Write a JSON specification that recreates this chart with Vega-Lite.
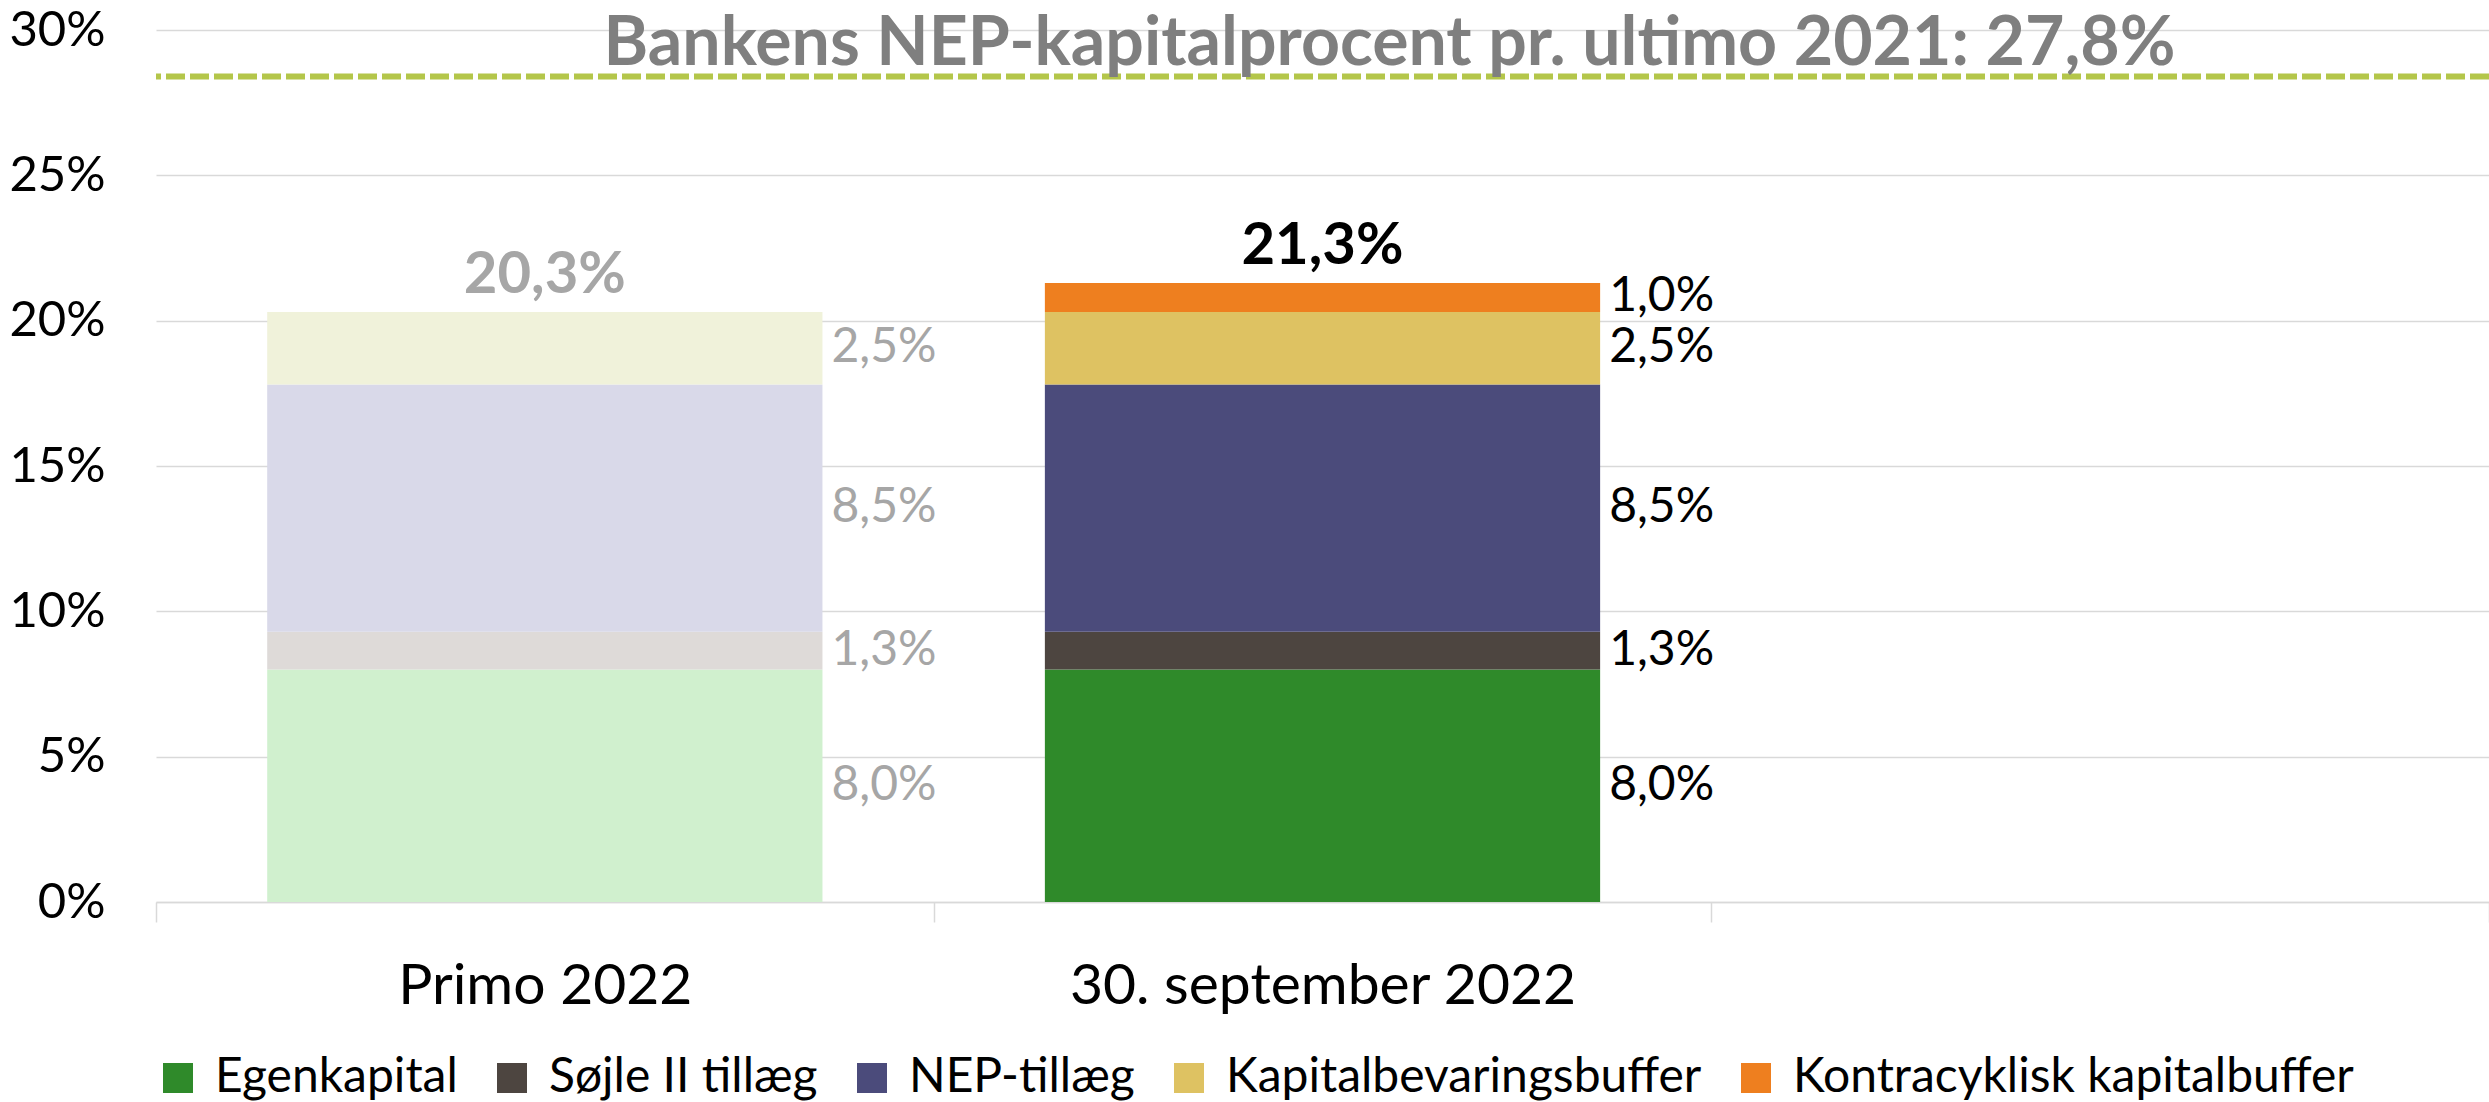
{
  "$schema": "https://vega.github.io/schema/vega-lite/v6.json",
  "width": 2333,
  "height": 872,
  "autosize": {"type": "none"},
  "padding": {"left": 156, "top": 30, "right": 0, "bottom": 200},
  "datasets": {
    "segments": [
      {"period": "Primo 2022", "segment": "Egenkapital", "rank": 1, "value": 0.08},
      {"period": "Primo 2022", "segment": "Søjle II tillæg", "rank": 2, "value": 0.013},
      {"period": "Primo 2022", "segment": "NEP-tillæg", "rank": 3, "value": 0.085},
      {"period": "Primo 2022", "segment": "Kapitalbevaringsbuffer", "rank": 4, "value": 0.025},
      {"period": "30. september 2022", "segment": "Egenkapital", "rank": 1, "value": 0.08},
      {"period": "30. september 2022", "segment": "Søjle II tillæg", "rank": 2, "value": 0.013},
      {"period": "30. september 2022", "segment": "NEP-tillæg", "rank": 3, "value": 0.085},
      {"period": "30. september 2022", "segment": "Kapitalbevaringsbuffer", "rank": 4, "value": 0.025},
      {"period": "30. september 2022", "segment": "Kontracyklisk kapitalbuffer", "rank": 5, "value": 0.01}
    ],
    "target": [
      {"level": 0.284, "caption": "Bankens NEP-kapitalprocent pr. ultimo 2021: 27,8%", "anchor": "30. september 2022"}
    ]
  },
  "layer": [
    {
      "data": {"name": "target"},
      "mark": {"type": "rule", "color": "#B4C64A", "strokeWidth": 6, "strokeDash": [19, 5]},
      "encoding": {
        "y": {"field": "level", "type": "quantitative", "scale": {"domain": [0, 0.3]}}
      }
    },
    {
      "data": {"name": "segments"},
      "transform": [
        {"stack": "value", "groupby": ["period"], "sort": [{"field": "rank", "order": "ascending"}], "as": ["y0", "y1"]},
        {"filter": "datum.period === 'Primo 2022'"}
      ],
      "mark": {"type": "bar", "width": {"band": 0.714}},
      "encoding": {
        "x": {
          "field": "period",
          "type": "nominal",
          "scale": {"domain": ["Primo 2022", "30. september 2022", ""], "paddingInner": 0, "paddingOuter": 0},
          "axis": {
            "title": null,
            "labelAngle": 0,
            "labelFont": "Lato",
            "labelFontSize": 57,
            "labelColor": "#000000",
            "labelPadding": 36,
            "tickBand": "extent",
            "tickSize": 20,
            "tickColor": "#D9D9D9",
            "tickWidth": 1.5,
            "domainColor": "#D9D9D9",
            "domainWidth": 1.5,
            "grid": false,
            "labelLimit": 1000
          }
        },
        "y": {
          "field": "y1",
          "type": "quantitative",
          "scale": {"domain": [0, 0.3]},
          "axis": {
            "title": null,
            "format": ".0%",
            "values": [0, 0.05, 0.1, 0.15, 0.2, 0.25, 0.3],
            "labelFont": "Lato",
            "labelFontSize": 49,
            "labelColor": "#000000",
            "labelPadding": 51,
            "ticks": false,
            "domain": false,
            "gridColor": "#D9D9D9",
            "gridWidth": 1.5
          }
        },
        "y2": {"field": "y0"},
        "color": {
          "field": "segment",
          "type": "nominal",
          "scale": {
            "domain": ["Egenkapital", "Søjle II tillæg", "NEP-tillæg", "Kapitalbevaringsbuffer"],
            "range": ["#D0F0CE", "#DEDAD8", "#D9D9E9", "#F0F2DA"]
          },
          "legend": null
        }
      }
    },
    {
      "data": {"name": "segments"},
      "transform": [
        {"stack": "value", "groupby": ["period"], "sort": [{"field": "rank", "order": "ascending"}], "as": ["y0", "y1"]},
        {"filter": "datum.period === '30. september 2022'"}
      ],
      "mark": {"type": "bar", "width": {"band": 0.714}},
      "encoding": {
        "x": {"field": "period", "type": "nominal"},
        "y": {"field": "y1", "type": "quantitative"},
        "y2": {"field": "y0"},
        "color": {
          "field": "segment",
          "type": "nominal",
          "scale": {
            "domain": ["Egenkapital", "Søjle II tillæg", "NEP-tillæg", "Kapitalbevaringsbuffer", "Kontracyklisk kapitalbuffer"],
            "range": ["#2F8A2A", "#4D4540", "#4B4B7B", "#DEC262", "#EE7F1F"]
          },
          "legend": {
            "title": null,
            "orient": "none",
            "legendX": -2,
            "legendY": 1024,
            "direction": "horizontal",
            "columns": 5,
            "symbolType": "square",
            "symbolSize": 900,
            "symbolStrokeWidth": 0,
            "symbolOpacity": 1,
            "labelFont": "Lato",
            "labelFontSize": 48,
            "labelColor": "#000000",
            "labelOffset": 13,
            "labelLimit": 1000,
            "columnPadding": 30,
            "padding": 0
          }
        }
      }
    },
    {
      "data": {"name": "segments"},
      "transform": [
        {"stack": "value", "groupby": ["period"], "sort": [{"field": "rank", "order": "ascending"}], "as": ["y0", "y1"]},
        {"calculate": "(datum.y0 + datum.y1) / 2", "as": "mid"}
      ],
      "mark": {"type": "text", "align": "left", "baseline": "middle", "dx": 9, "font": "Lato", "fontSize": 48},
      "encoding": {
        "x": {"field": "period", "type": "nominal", "bandPosition": 0.857},
        "y": {"field": "mid", "type": "quantitative"},
        "text": {"field": "value", "type": "quantitative", "format": ".1%"},
        "color": {"condition": {"test": "datum.period === 'Primo 2022'", "value": "#A6A6A6"}, "value": "#000000"}
      }
    },
    {
      "data": {"name": "segments"},
      "transform": [
        {"aggregate": [{"op": "sum", "field": "value", "as": "total"}], "groupby": ["period"]}
      ],
      "mark": {"type": "text", "align": "center", "baseline": "alphabetic", "dy": -19, "font": "Lato", "fontSize": 58, "fontWeight": "bold"},
      "encoding": {
        "x": {"field": "period", "type": "nominal"},
        "y": {"field": "total", "type": "quantitative"},
        "text": {"field": "total", "type": "quantitative", "format": ".1%"},
        "color": {"condition": {"test": "datum.period === 'Primo 2022'", "value": "#A6A6A6"}, "value": "#000000"}
      }
    },
    {
      "data": {"name": "target"},
      "mark": {"type": "text", "align": "center", "baseline": "alphabetic", "dx": 67, "dy": -12, "font": "Lato", "fontSize": 68, "fontWeight": "bold", "color": "#7F7F7F"},
      "encoding": {
        "x": {"field": "anchor", "type": "nominal"},
        "y": {"field": "level", "type": "quantitative"},
        "text": {"field": "caption", "type": "nominal"}
      }
    }
  ],
  "resolve": {"scale": {"color": "independent"}, "legend": {"color": "independent"}},
  "config": {
    "view": {"stroke": null},
    "locale": {"number": {"decimal": ",", "thousands": ".", "grouping": [3], "currency": ["", " kr."]}}
  }
}
